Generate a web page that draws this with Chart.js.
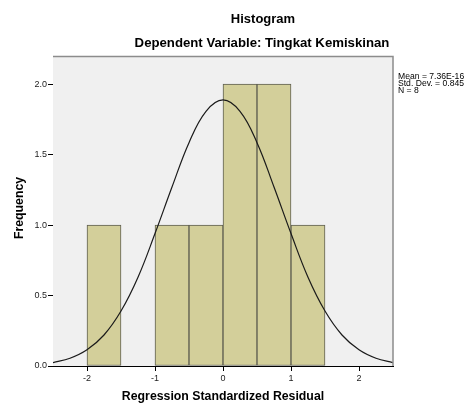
<!DOCTYPE html>
<html>
<head>
<meta charset="utf-8">
<script src="https://cdn.jsdelivr.net/npm/chart.js@4.4.1/dist/chart.umd.min.js"></script>
<style>
  html, body { margin: 0; padding: 0; background: #fff; }
  #wrap { width: 470px; height: 403px; position: relative; }
</style>
</head>
<body>
<div id="wrap"><canvas id="histChart" width="470" height="403"></canvas></div>
<script>
// histogram bins (width 0.5), centre of each filled bin and its count
const binCenters = [-1.75, -0.75, -0.25, 0.25, 0.75, 1.25];
const binCounts = [1, 1, 1, 2, 2, 1];

// normal curve
const curveX = [-2.5, -2.25, -2, -1.75, -1.5, -1.25, -1, -0.75, -0.5, -0.25, 0,
                0.25, 0.5, 0.75, 1, 1.25, 1.5, 1.75, 2, 2.25, 2.5];
const curveY = [0.024, 0.055, 0.115, 0.22, 0.39, 0.63, 0.94, 1.27, 1.585, 1.807, 1.888,
                1.807, 1.585, 1.27, 0.94, 0.63, 0.39, 0.22, 0.115, 0.055, 0.024];

const xTicks = [-2, -1, 0, 1, 2];
const yTicks = [0, 0.5, 1, 1.5, 2];

const statsLines = ['Mean = 7.36E-16', 'Std. Dev. = 0.845', 'N = 8'];

const FONT = '"Liberation Sans", Arial, sans-serif';

const plotDecor = {
    id: 'plotDecor',
    beforeDatasetsDraw(chart) {
        const { ctx, chartArea: a } = chart;
        ctx.save();
        ctx.fillStyle = '#f0f0f0';
        ctx.fillRect(a.left, a.top, a.right - a.left, a.bottom - a.top);
        ctx.restore();
    },
    afterDraw(chart) {
        const { ctx, chartArea: a } = chart;
        ctx.save();
        // top and right frame
        ctx.strokeStyle = '#8c8c8c';
        ctx.lineWidth = 1.5;
        ctx.beginPath();
        ctx.moveTo(a.left, a.top + 0.5);
        ctx.lineTo(a.right, a.top + 0.5);
        ctx.lineTo(a.right, a.bottom);
        ctx.stroke();

        ctx.fillStyle = '#000';
        ctx.textAlign = 'center';
        ctx.textBaseline = 'middle';
        ctx.font = 'bold 13px ' + FONT;
        ctx.fillText('Histogram', 263, 19);
        ctx.font = 'bold 13.2px ' + FONT;
        ctx.fillText('Dependent Variable: Tingkat Kemiskinan', 262, 43);

        ctx.font = 'bold 12.3px ' + FONT;
        ctx.fillText('Regression Standardized Residual', (a.left + a.right) / 2, 397);

        ctx.save();
        ctx.translate(20, 208);
        ctx.rotate(-Math.PI / 2);
        ctx.fillText('Frequency', 0, 0);
        ctx.restore();

        ctx.font = '8.6px ' + FONT;
        ctx.textAlign = 'left';
        ctx.textBaseline = 'alphabetic';
        statsLines.forEach((s, i) => ctx.fillText(s, 398, 79 + i * 7));
        ctx.restore();
    }
};

new Chart(document.getElementById('histChart'), {
    type: 'bar',
    data: {
        datasets: [
            {
                type: 'line',
                data: curveX.map((x, i) => ({ x: x, y: curveY[i] })),
                borderColor: '#1a1a1a',
                borderWidth: 1.2,
                pointRadius: 0,
                tension: 0.4,
                fill: false,
                order: 0
            },
            {
                type: 'bar',
                data: binCenters.map((x, i) => ({ x: x, y: binCounts[i] })),
                backgroundColor: '#d3cf9a',
                borderColor: '#5e5e50',
                borderWidth: 1,
                borderSkipped: false,
                barPercentage: 1,
                categoryPercentage: 1,
                order: 1
            }
        ]
    },
    options: {
        responsive: false,
        animation: false,
        layout: { padding: { top: 56, right: 77, left: 0, bottom: 0 } },
        plugins: {
            legend: { display: false },
            tooltip: { enabled: false }
        },
        scales: {
            x: {
                type: 'linear',
                offset: false,
                min: -2.5,
                max: 2.5,
                afterBuildTicks: s => { s.ticks = xTicks.map(v => ({ value: v })); },
                afterFit: s => { s.height = 37; },
                grid: { offset: false, drawOnChartArea: false, drawTicks: true, tickLength: 5, color: '#000' },
                border: { display: true, color: '#000', width: 1 },
                ticks: {
                    color: '#222',
                    font: { family: FONT, size: 9 },
                    padding: 2,
                    maxRotation: 0,
                    callback: v => String(v)
                }
            },
            y: {
                min: 0,
                max: 2.2,
                afterBuildTicks: s => { s.ticks = yTicks.map(v => ({ value: v })); },
                afterFit: s => { s.width = 53; },
                grid: { drawOnChartArea: false, drawTicks: true, tickLength: 5, color: '#000' },
                border: { display: true, color: '#000', width: 1 },
                ticks: {
                    color: '#222',
                    font: { family: FONT, size: 9 },
                    padding: 1,
                    callback: v => v.toFixed(1)
                }
            }
        }
    },
    plugins: [plotDecor]
});
</script>
</body>
</html>
